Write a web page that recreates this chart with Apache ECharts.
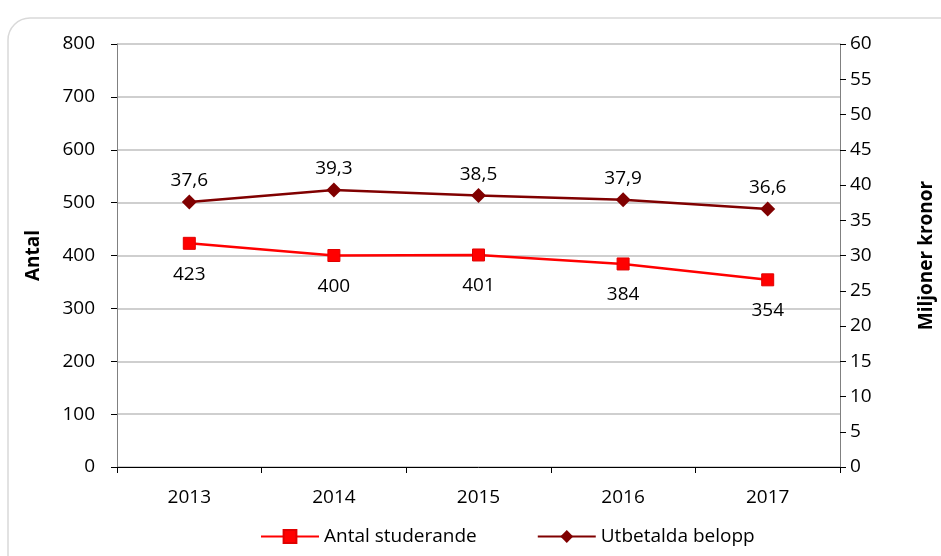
<!DOCTYPE html>
<html>
<head>
<meta charset="utf-8">
<script src="https://cdn.jsdelivr.net/npm/echarts@6/dist/echarts.min.js"></script>
<style>
html,body{margin:0;padding:0;background:#fff;}
#c{width:941px;height:556px;}
</style>
</head>
<body>
<div id="c"></div>
<script>
const years = ['2013', '2014', '2015', '2016', '2017'];
const antalStuderande = [423, 400, 401, 384, 354];
const utbetaldaBelopp = [37.6, 39.3, 38.5, 37.9, 36.6];
const leftTicks = [0, 800, 100];
const rightTicks = [0, 60, 5];

const FONT = 'Open Sans';
const FS = 19;
const chart = echarts.init(document.getElementById('c'));
chart.setOption({
  animation: false,
  textStyle: { fontFamily: FONT },
  graphic: [{
    type: 'rect',
    shape: { x: 8, y: 18, width: 960, height: 580, r: 22 },
    style: { fill: 'none', stroke: '#d9d9d9', lineWidth: 1.5 },
    silent: true
  }],
  grid: { left: 117, right: 101, top: 44, bottom: 89, outerBoundsMode: 'none', containLabel: false },
  legend: {
    bottom: 5,
    left: 255,
    itemGap: 60,
    itemWidth: 58,
    itemHeight: 16,
    textStyle: { fontFamily: FONT, fontSize: FS, color: '#000' },
    data: ['Antal studerande', 'Utbetalda belopp']
  },
  xAxis: {
    type: 'category',
    data: years,
    boundaryGap: true,
    axisLine: { lineStyle: { color: '#000', width: 1 } },
    axisTick: { show: true, interval: 0, length: 6, lineStyle: { color: '#000' } },
    axisLabel: { color: '#000', fontSize: FS, margin: 21, fontFamily: FONT }
  },
  yAxis: [{
    type: 'value',
    min: leftTicks[0], max: leftTicks[1], interval: leftTicks[2],
    name: 'Antal',
    nameLocation: 'middle',
    nameGap: 74,
    nameRotate: 90,
    nameTextStyle: { fontWeight: 'bold', fontSize: FS, color: '#000', fontFamily: FONT },
    axisLine: { show: true, lineStyle: { color: '#808080' } },
    axisTick: { show: true, length: 6, lineStyle: { color: '#000' } },
    axisLabel: { color: '#000', fontSize: FS, margin: 22, fontFamily: FONT },
    splitLine: { show: true, lineStyle: { color: '#bfbfbf', width: 1.5 } }
  }, {
    type: 'value',
    position: 'right',
    min: rightTicks[0], max: rightTicks[1], interval: rightTicks[2],
    name: 'Miljoner kronor',
    nameLocation: 'middle',
    nameGap: 77,
    nameRotate: 90,
    nameTextStyle: { fontWeight: 'bold', fontSize: FS, color: '#000', fontFamily: FONT },
    axisLine: { show: true, lineStyle: { color: '#808080' } },
    axisTick: { show: true, length: 6, lineStyle: { color: '#000' } },
    axisLabel: { color: '#000', fontSize: FS, margin: 10, fontFamily: FONT },
    splitLine: { show: false }
  }],
  series: [{
    name: 'Antal studerande',
    type: 'line',
    yAxisIndex: 0,
    data: antalStuderande,
    symbol: 'rect',
    symbolSize: 12,
    itemStyle: { color: '#ff0000', borderColor: '#e00000', borderWidth: 1 },
    lineStyle: { color: '#ff0000', width: 2.5 },
    label: {
      show: true, position: 'bottom', distance: 15,
      color: '#000', fontSize: FS, fontFamily: FONT
    }
  }, {
    name: 'Utbetalda belopp',
    type: 'line',
    yAxisIndex: 1,
    data: utbetaldaBelopp,
    symbol: 'diamond',
    symbolSize: 15,
    itemStyle: { color: '#800000' },
    lineStyle: { color: '#800000', width: 2.5 },
    label: {
      show: true, position: 'top', distance: 4,
      color: '#000', fontSize: FS, fontFamily: FONT,
      formatter: p => p.value.toFixed(1).replace('.', ',')
    }
  }]
});
</script>
</body>
</html>
